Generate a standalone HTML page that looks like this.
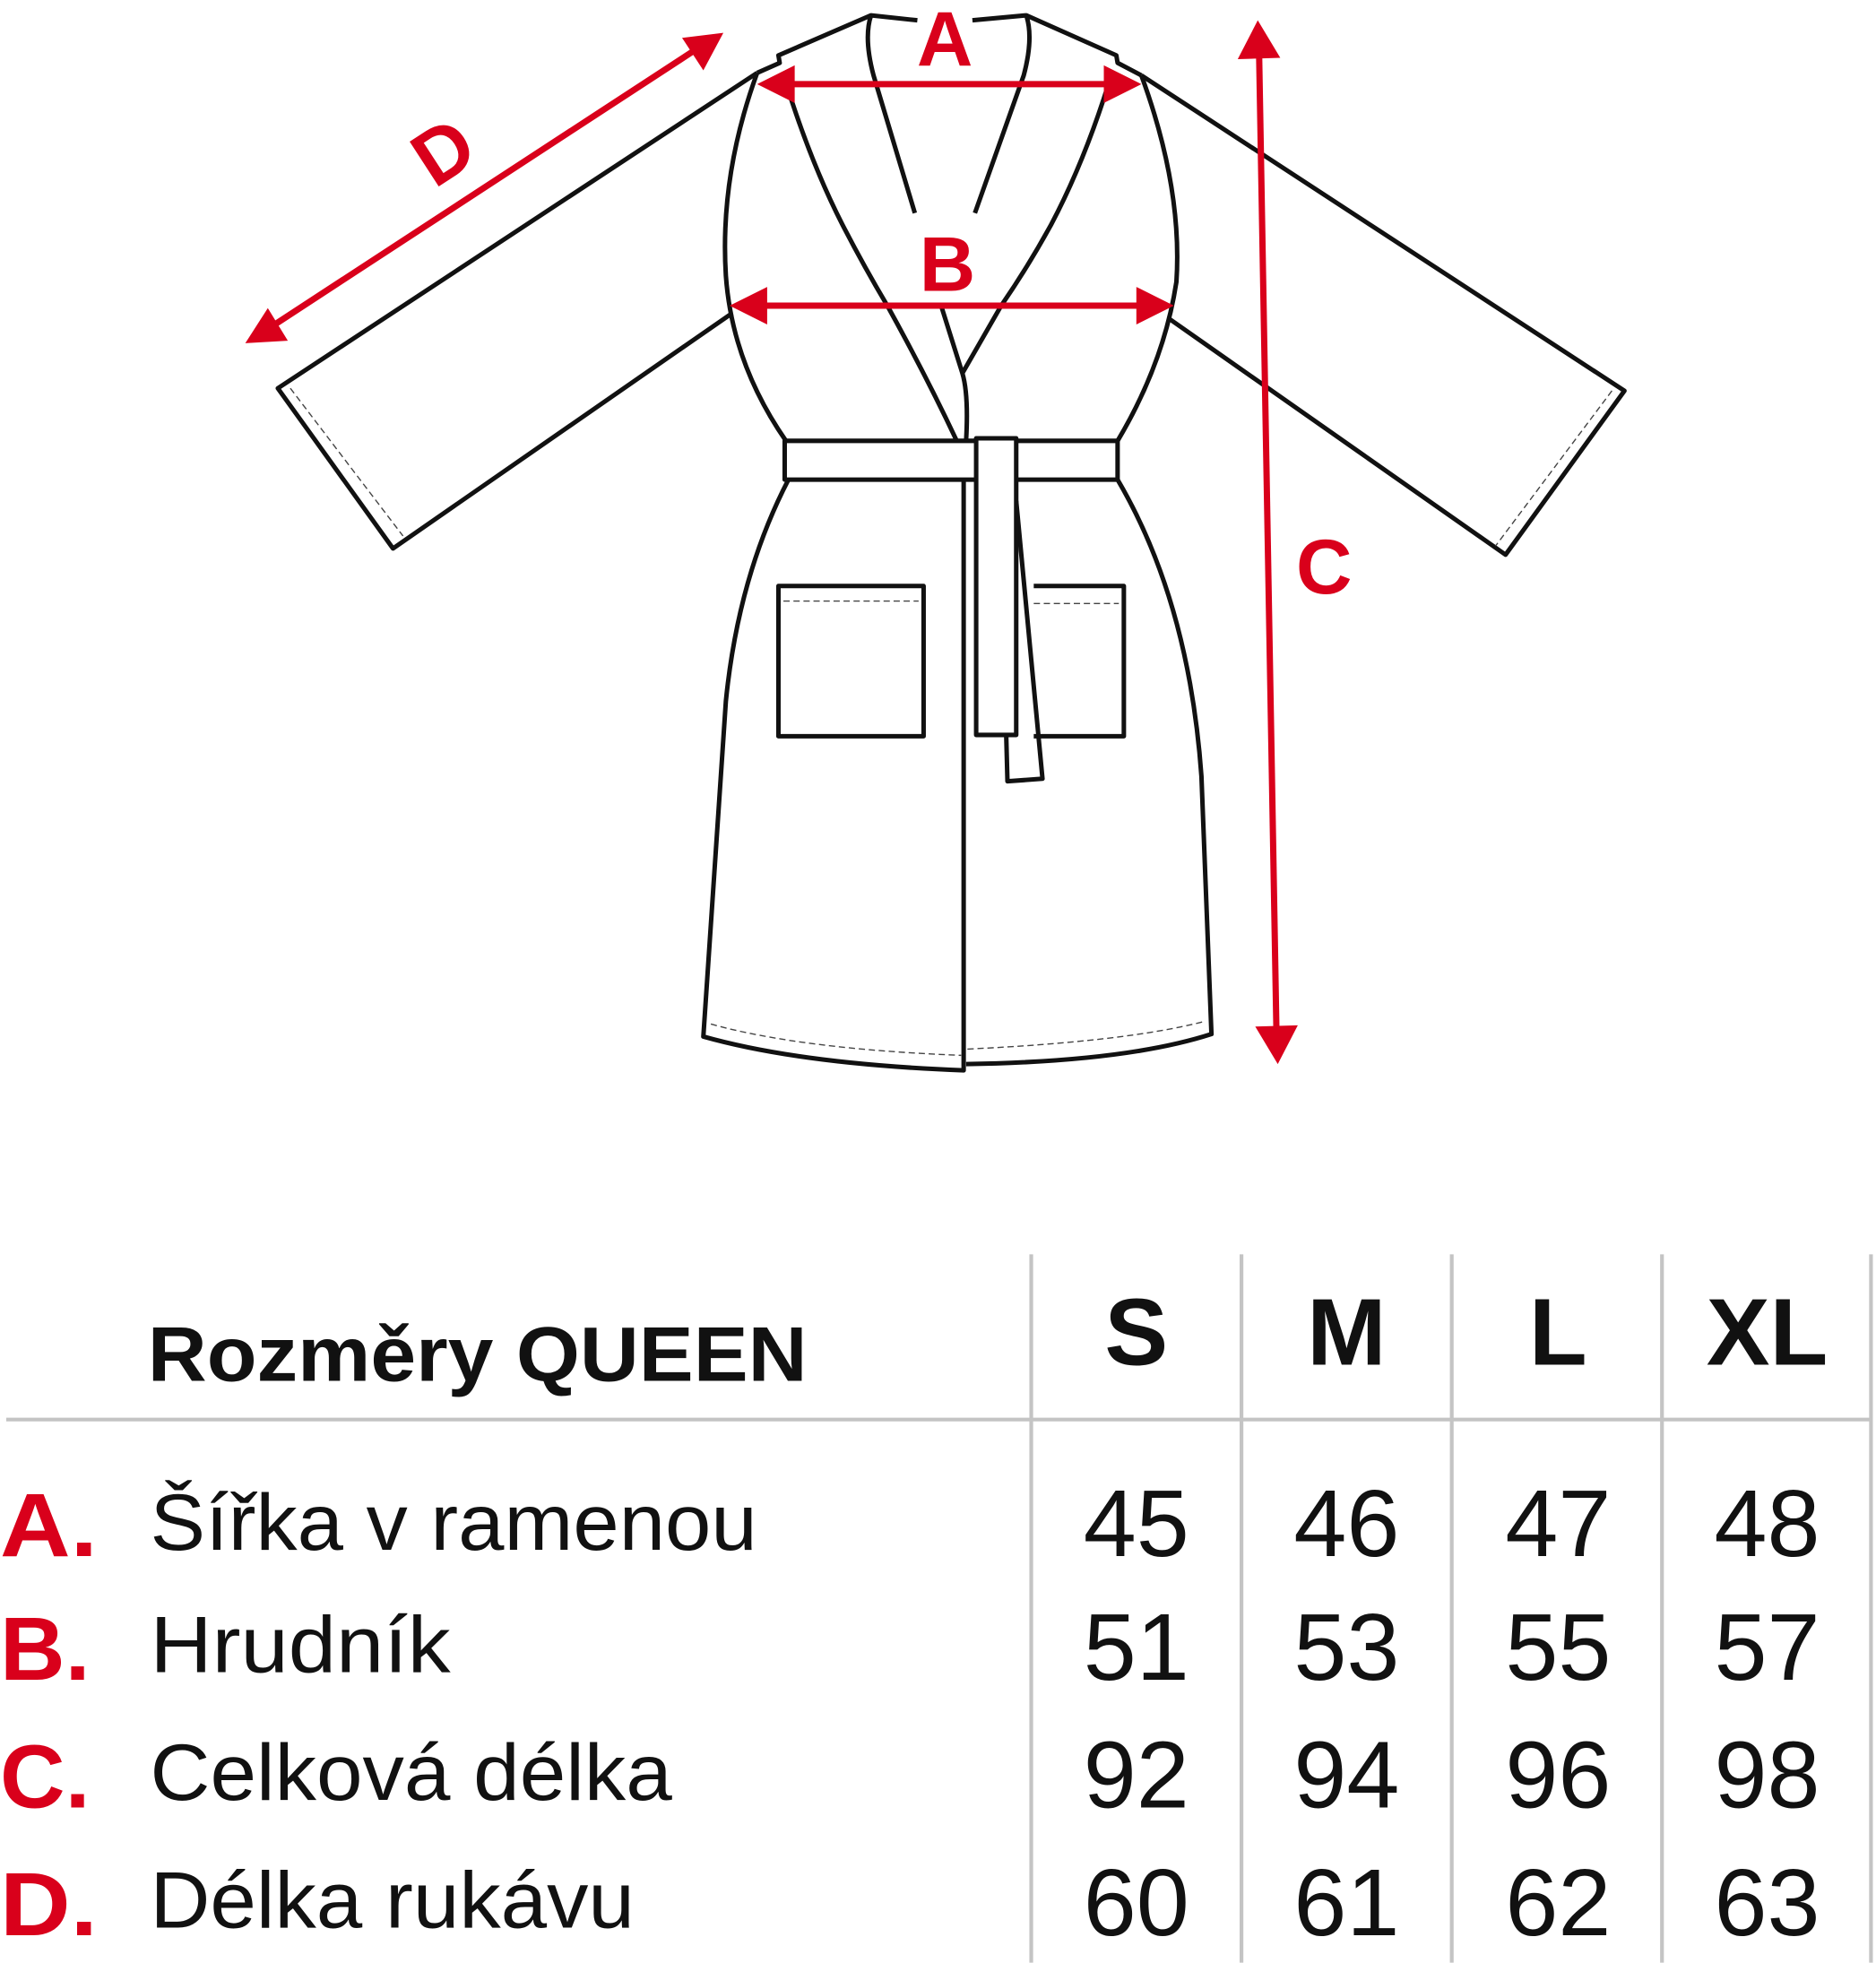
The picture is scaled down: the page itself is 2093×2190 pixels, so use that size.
<!DOCTYPE html>
<html><head><meta charset="utf-8"><style>
html,body{margin:0;padding:0;background:#fff;}
svg{display:block;}
</style></head><body>
<svg width="2093" height="2190" viewBox="0 0 1499 1568" xmlns="http://www.w3.org/2000/svg" font-family="Liberation Sans, DejaVu Sans, sans-serif">
<g fill="none" stroke="#111" stroke-width="3.6" stroke-linejoin="round">
<!-- sleeves -->
<path d="M605,58 L222,310 L314,438 L585,250"/>
<path d="M912,60 L1298,312 L1203,443 L935,255"/>
<!-- collar -->
<path d="M605,58 L623,50 L622,44 L696,12 L733,16"/>
<path d="M777,16 L820,12 L892,44 L893,50 L912,60"/>
<path d="M696,12 Q690,30 698,60 L731,170"/>
<path d="M820,12 Q826,30 818,60 L779,170"/>
<!-- body sides -->
<path d="M605,58 Q575,140 580,220 Q585,290 628,352"/>
<path d="M912,60 Q945,150 940,225 Q930,290 893,352"/>
<path d="M630,383 Q590,460 580,560 L562,828 Q640,850 770,855 L770,383"/>
<path d="M893,383 Q950,480 960,620 L968,826 Q900,848 772,850"/>
<!-- lapels -->
<path d="M628,66 Q648,130 673,179 Q690,212 709,244 Q740,300 764,351"/>
<path d="M886,66 Q866,130 840,179 Q822,212 800,244 L769,298"/>
<path d="M752,244 L769,298 Q774,315 772,351"/>
<!-- belt -->
<rect x="627" y="352" width="266" height="31" fill="#fff"/>
<path d="M812,400 L833,622 L805,624 L804,587"/>
<rect x="780" y="350" width="32" height="237" fill="#fff"/>
<!-- pockets -->
<rect x="622" y="468" width="116" height="120"/>
<path d="M826,468 L898,468 L898,588 L826,588"/>
</g>
<g fill="none" stroke="#444" stroke-width="1" stroke-dasharray="5,3">
<path d="M232,310 L322,428"/><path d="M1288,312 L1195,436"/>
<path d="M626,480 L734,480"/><path d="M826,482 L894,482"/>
<path d="M568,818 Q640,838 768,843"/><path d="M773,838 Q900,832 962,816"/>
</g>
<!-- red arrows -->
<g stroke="#d9001b" stroke-width="5" fill="#d9001b">
<line x1="625" y1="67" x2="892" y2="67"/>
<polygon points="605,67 635,52 635,82" stroke="none"/>
<polygon points="912,67 882,52 882,82" stroke="none"/>
<line x1="603" y1="244" x2="918" y2="244"/>
<polygon points="583,244 613,229 613,259" stroke="none"/>
<polygon points="938,244 908,229 908,259" stroke="none"/>
<line x1="1006" y1="38" x2="1020" y2="828"/>
<polygon points="1005,16 989,47 1023,46" stroke="none"/>
<polygon points="1021,850 1003,820 1037,819" stroke="none"/>
<line x1="558" y1="38" x2="215" y2="262"/>
<polygon points="578,26 545,30 562,56" stroke="none"/>
<polygon points="196,274 230,272 214,246" stroke="none"/>
</g>
<g fill="#d9001b" font-weight="bold" font-size="62">
<text x="755" y="52" text-anchor="middle">A</text>
<text x="757" y="232" text-anchor="middle">B</text>
<text x="1058" y="474" text-anchor="middle">C</text>
<text x="355" y="142" text-anchor="middle" transform="rotate(-33 355 122)">D</text>
</g>
<!-- table -->
<g stroke="#c4c4c4" stroke-width="3">
<line x1="5" y1="1134" x2="1495" y2="1134"/>
<line x1="824" y1="1002" x2="824" y2="1568"/>
<line x1="992" y1="1002" x2="992" y2="1568"/>
<line x1="1160" y1="1002" x2="1160" y2="1568"/>
<line x1="1328" y1="1002" x2="1328" y2="1568"/>
<line x1="1495" y1="1002" x2="1495" y2="1568"/>
</g>
<text x="118" y="1103" font-size="62" font-weight="bold" fill="#111" textLength="527" lengthAdjust="spacingAndGlyphs">Rozměry QUEEN</text>
<g font-size="76" font-weight="bold" fill="#111" text-anchor="middle">
<text x="908" y="1090">S</text><text x="1076" y="1090">M</text><text x="1245" y="1090">L</text><text x="1412" y="1090">XL</text>
</g>
<g font-size="72" font-weight="bold" fill="#d9001b">
<text x="0" y="1243" textLength="78" lengthAdjust="spacingAndGlyphs">A.</text><text x="0" y="1342" textLength="72" lengthAdjust="spacingAndGlyphs">B.</text><text x="0" y="1444" textLength="72" lengthAdjust="spacingAndGlyphs">C.</text><text x="0" y="1546" textLength="78" lengthAdjust="spacingAndGlyphs">D.</text>
</g>
<g font-size="64" fill="#111" lengthAdjust="spacingAndGlyphs">
<text x="120" y="1238" textLength="485" lengthAdjust="spacingAndGlyphs">Šířka v ramenou</text>
<text x="120" y="1336" textLength="240" lengthAdjust="spacingAndGlyphs">Hrudník</text>
<text x="120" y="1438" textLength="417" lengthAdjust="spacingAndGlyphs">Celková délka</text>
<text x="120" y="1540" textLength="387" lengthAdjust="spacingAndGlyphs">Délka rukávu</text>
</g>
<g font-size="76" fill="#111" text-anchor="middle">
<text x="908" y="1243">45</text><text x="1076" y="1243">46</text><text x="1245" y="1243">47</text><text x="1412" y="1243">48</text>
<text x="908" y="1342">51</text><text x="1076" y="1342">53</text><text x="1245" y="1342">55</text><text x="1412" y="1342">57</text>
<text x="908" y="1444">92</text><text x="1076" y="1444">94</text><text x="1245" y="1444">96</text><text x="1412" y="1444">98</text>
<text x="908" y="1546">60</text><text x="1076" y="1546">61</text><text x="1245" y="1546">62</text><text x="1412" y="1546">63</text>
</g>
</svg>
</body></html>
